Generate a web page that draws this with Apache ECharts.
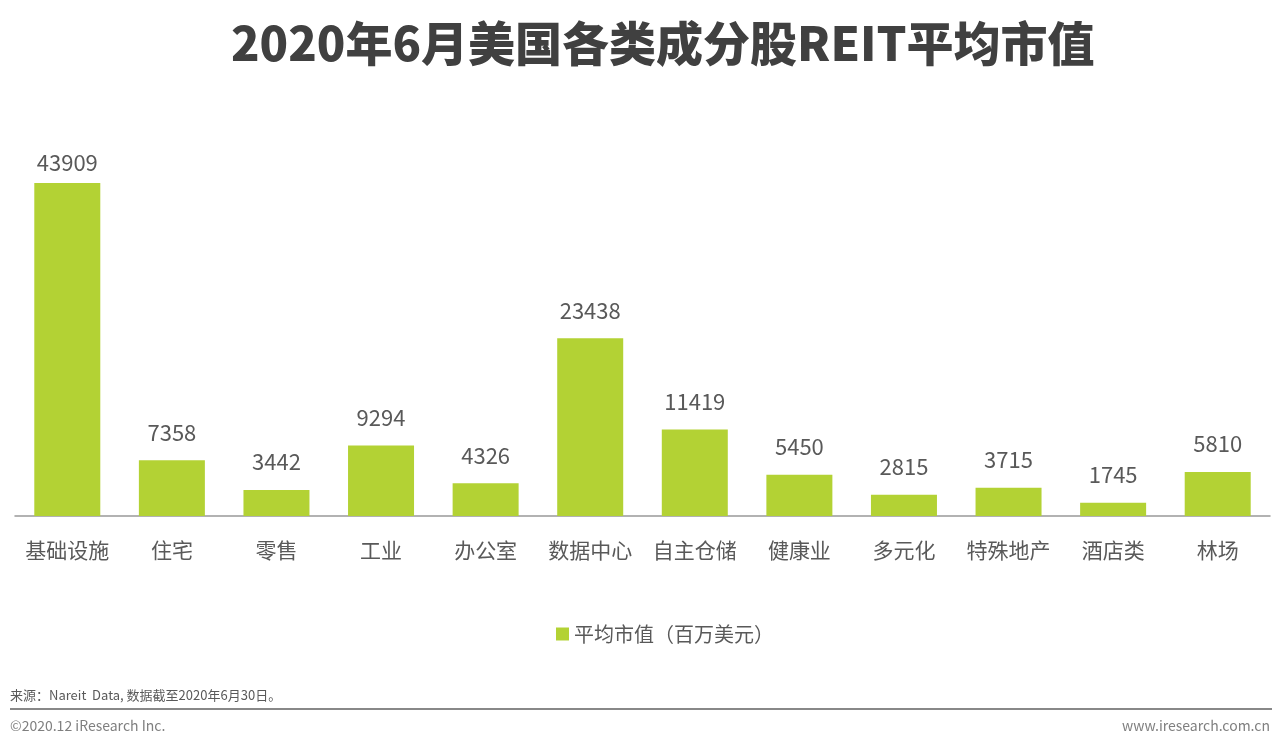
<!DOCTYPE html>
<html><head><meta charset="utf-8">
<script src="https://cdn.jsdelivr.net/npm/echarts@6/dist/echarts.min.js"></script>
<style>html,body{margin:0;padding:0;background:#fff}#c{width:1280px;height:751px}</style>
</head><body><div id="c"></div>
<script>
const categories = ['基础设施','住宅','零售','工业','办公室','数据中心','自主仓储','健康业','多元化','特殊地产','酒店类','林场'];
const values = [43909,7358,3442,9294,4326,23438,11419,5450,2815,3715,1745,5810];
const seriesName = '平均市值（百万美元）';
const chart = echarts.init(document.getElementById('c'));
const font = '"Microsoft YaHei","Noto Sans CJK SC",sans-serif';
chart.setOption({
  backgroundColor:'#fff',
  title:{text:'2020年6月美国各类成分股REIT平均市值',left:226,top:15,
    textStyle:{fontSize:47,fontWeight:900,color:'#404040',fontFamily:font}},
  legend:{top:619,left:551,itemWidth:13,itemHeight:13,icon:'rect',itemGap:6,
    textStyle:{fontSize:20,color:'#595959',fontFamily:font},data:[seriesName]},
  grid:{left:15,right:10,top:183,bottom:235},
  xAxis:{type:'category',data:categories,
    axisLine:{lineStyle:{color:'#999',width:1.5}},axisTick:{show:false},
    axisLabel:{fontSize:21,color:'#595959',margin:24,fontFamily:font,interval:0}},
  yAxis:{type:'value',min:0,max:43909,show:false,splitLine:{show:false}},
  series:[{name:seriesName,type:'bar',barWidth:66,
    data:values.map((v,i)=>i===0?{value:v,label:{distance:9}}:v),
    itemStyle:{color:'#B3D234'},
    label:{show:true,position:'top',distance:17,fontSize:22,color:'#595959',fontFamily:font}}],
  graphic:[
    {type:'text',left:10,top:689,style:{text:'来源：Nareit  Data, 数据截至2020年6月30日。',fontSize:13,fill:'#595959',fontFamily:font}},
    {type:'rect',shape:{x:10,y:708,width:1262,height:2},style:{fill:'#888'}},
    {type:'text',left:10,top:719,style:{text:'©2020.12 iResearch Inc.',fontSize:14,fill:'#7f7f7f',fontFamily:font}},
    {type:'text',right:10,top:719,style:{text:'www.iresearch.com.cn',fontSize:14,fill:'#7f7f7f',fontFamily:font}}
  ]
});
</script></body></html>
